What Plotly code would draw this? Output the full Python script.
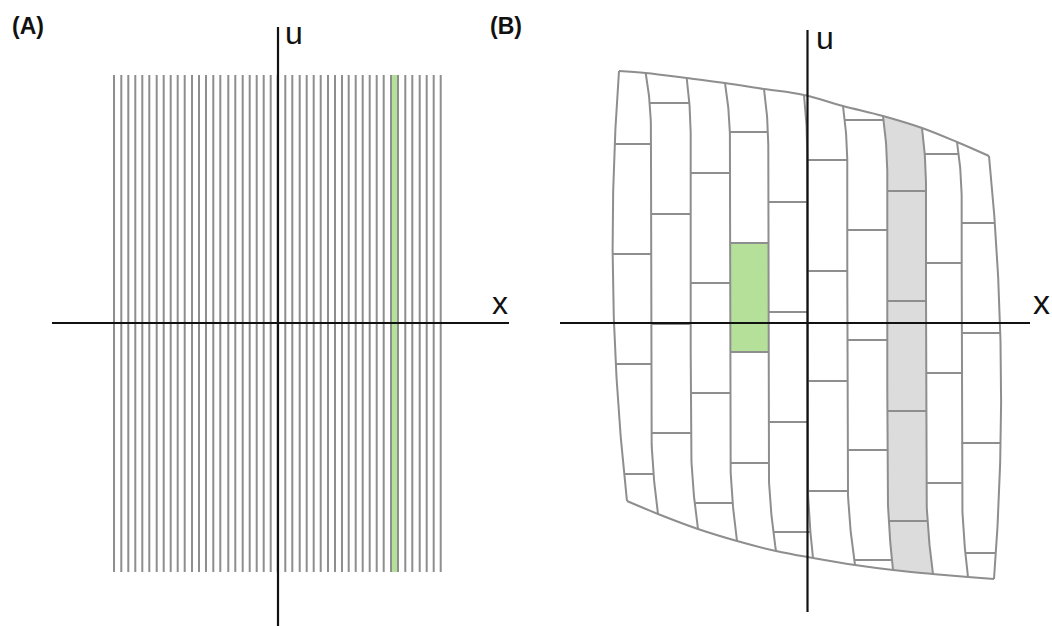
import numpy as np
import plotly.graph_objects as go

# ---------------- Panel A data ----------------
A_LINES_X = [114.0, 121.3, 128.3, 135.3, 142.3, 149.3, 156.7, 163.7, 170.7, 177.7,
             184.7, 192.0, 199.0, 206.0, 213.3, 220.3, 228.3, 235.3, 242.7, 249.7,
             256.7, 263.7, 270.7, 277.7, 285.3, 292.3, 299.7, 306.7, 313.7, 320.7,
             328.0, 335.0, 342.0, 348.7, 355.7, 362.7, 369.7, 376.7, 383.7, 391.0,
             398.0, 405.3, 412.3, 419.7, 426.7, 433.7, 440.7]
A_LINE_TOP = 75
A_LINE_BOTTOM = 572
A_GREEN_PAIR = [39, 40]
A_AXIS_X = [52, 509]
A_AXIS_Y = 323
A_VAXIS_X = 278
A_VAXIS_Y = [27, 626]

# ---------------- Panel B data ----------------
B_TOP_X = [619, 645.7, 686.7, 725, 764, 804, 843, 883, 922, 957, 989]
B_TOP_Y = [71, 73, 78, 83, 89, 95, 106, 116, 128, 142, 156]
B_MID_X = [614, 651, 690.7, 730, 768.3, 807.3, 847.3, 887.3, 926, 961.7, 1000]
B_MID_Y = 323
B_BOT_X = [627, 658, 698, 737, 776, 813, 855, 893, 933, 968, 994]
B_BOT_Y = [501, 514, 529, 541, 551, 558, 565, 570, 574, 577, 579]
B_DIVIDERS = [
    [144, 254, 364, 474],
    [103, 214, 324, 433],
    [173, 283, 393, 503],
    [132, 243, 352, 463],
    [202, 312, 422, 532],
    [160, 271, 381, 491],
    [120, 230, 340, 450, 560],
    [191, 301, 411, 521],
    [154, 263, 373, 483],
    [223, 333, 443, 553],
]
B_GRAY_COL = 7
B_GREEN_CELL = [3, 243, 352]
B_AXIS_X = [560, 1030]
B_AXIS_Y = 323
B_VAXIS_X = 807.5
B_VAXIS_Y = [30, 612]

GRID_GRAY = "#8e8e8e"
FILL_GREEN = "#b4e09a"
FILL_GRAY = "#dcdcdc"
LW = 2

fig = go.Figure()

NB = len(B_TOP_X)
QCOEF = [np.polyfit([B_TOP_Y[j], B_MID_Y, B_BOT_Y[j]],
                    [B_TOP_X[j], B_MID_X[j], B_BOT_X[j]], 2) for j in range(NB)]
HOOK_TOP = 60.0   # length of the curved part near the top edge
HOOK_BOT = 100.0  # length of the curved part near the bottom edge


def bx(j, y):
    y = np.asarray(y, dtype=float)
    if j == 0 or j == NB - 1:
        return np.polyval(QCOEF[j], y)
    ft = np.clip(1 - (y - B_TOP_Y[j]) / HOOK_TOP, 0, 1) ** 2
    fb = np.clip(1 - (B_BOT_Y[j] - y) / HOOK_BOT, 0, 1) ** 2
    return B_MID_X[j] + (B_TOP_X[j] - B_MID_X[j]) * ft + (B_BOT_X[j] - B_MID_X[j]) * fb


# ---------- Panel A ----------
g0, g1 = A_GREEN_PAIR
fig.add_trace(go.Scatter(
    x=[A_LINES_X[g0], A_LINES_X[g1], A_LINES_X[g1], A_LINES_X[g0], A_LINES_X[g0]],
    y=[A_LINE_TOP, A_LINE_TOP, A_LINE_BOTTOM, A_LINE_BOTTOM, A_LINE_TOP],
    fill="toself", fillcolor=FILL_GREEN, mode="none", hoverinfo="skip"))

xs, ys = [], []
for x in A_LINES_X:
    xs += [x, x, None]
    ys += [A_LINE_TOP, A_LINE_BOTTOM, None]
fig.add_trace(go.Scatter(x=xs, y=ys, mode="lines",
                         line=dict(color=GRID_GRAY, width=LW), hoverinfo="skip"))

# ---------- Panel B fills ----------
c = B_GRAY_COL
yl = np.linspace(B_TOP_Y[c], B_BOT_Y[c], 120)
yr = np.linspace(B_BOT_Y[c + 1], B_TOP_Y[c + 1], 120)
px = list(bx(c, yl)) + list(bx(c + 1, yr)) + [B_TOP_X[c]]
py = list(yl) + list(yr) + [B_TOP_Y[c]]
fig.add_trace(go.Scatter(x=px, y=py, fill="toself", fillcolor=FILL_GRAY,
                         mode="none", hoverinfo="skip"))

gc, gy0, gy1 = B_GREEN_CELL
yl = np.linspace(gy0, gy1, 30)
yr = yl[::-1]
px = list(bx(gc, yl)) + list(bx(gc + 1, yr)) + [float(bx(gc, gy0))]
py = list(yl) + list(yr) + [gy0]
fig.add_trace(go.Scatter(x=px, y=py, fill="toself", fillcolor=FILL_GREEN,
                         mode="none", hoverinfo="skip"))

# ---------- Panel B lines ----------
xs, ys = [], []
for j in range(NB):
    yy = np.linspace(B_TOP_Y[j], B_BOT_Y[j], 160)
    xs += list(bx(j, yy)) + [None]
    ys += list(yy) + [None]
for ci, divs in enumerate(B_DIVIDERS):
    for d in divs:
        xs += [float(bx(ci, d)), float(bx(ci + 1, d)), None]
        ys += [d, d, None]
fig.add_trace(go.Scatter(x=xs, y=ys, mode="lines",
                         line=dict(color=GRID_GRAY, width=LW), hoverinfo="skip"))

fig.add_trace(go.Scatter(x=B_TOP_X, y=B_TOP_Y, mode="lines",
                         line=dict(color=GRID_GRAY, width=LW, shape="spline"),
                         hoverinfo="skip"))
fig.add_trace(go.Scatter(x=B_BOT_X, y=B_BOT_Y, mode="lines",
                         line=dict(color=GRID_GRAY, width=LW, shape="spline"),
                         hoverinfo="skip"))

# ---------- Axes (black) ----------
fig.add_trace(go.Scatter(
    x=[A_AXIS_X[0], A_AXIS_X[1], None, A_VAXIS_X, A_VAXIS_X, None,
       B_AXIS_X[0], B_AXIS_X[1], None, B_VAXIS_X, B_VAXIS_X],
    y=[A_AXIS_Y, A_AXIS_Y, None, A_VAXIS_Y[0], A_VAXIS_Y[1], None,
       B_AXIS_Y, B_AXIS_Y, None, B_VAXIS_Y[0], B_VAXIS_Y[1]],
    mode="lines", line=dict(color="#111111", width=2.2), hoverinfo="skip"))

FONT = "Liberation Sans, Arial, sans-serif"
labels = [
    ("(A)", 28, 26, 23, True),
    ("(B)", 506, 26, 23, True),
    ("u", 294, 33, 32, False),
    ("x", 500, 303, 32, False),
    ("u", 825, 38, 32, False),
    ("x", 1041, 302, 34, False),
]
for t, x, y, s, b in labels:
    fig.add_annotation(x=x, y=y, xref="x", yref="y", showarrow=False,
                       text=f"<b>{t}</b>" if b else t,
                       font=dict(family=FONT, size=s, color="#111111"),
                       xanchor="center", yanchor="middle")

fig.update_layout(
    width=1052, height=626, margin=dict(l=0, r=0, t=0, b=0),
    paper_bgcolor="white", plot_bgcolor="white", showlegend=False,
    xaxis=dict(range=[0, 1052], visible=False, fixedrange=True),
    yaxis=dict(range=[626, 0], visible=False, fixedrange=True),
)

fig.write_html("out.html", config={"displayModeBar": False})
